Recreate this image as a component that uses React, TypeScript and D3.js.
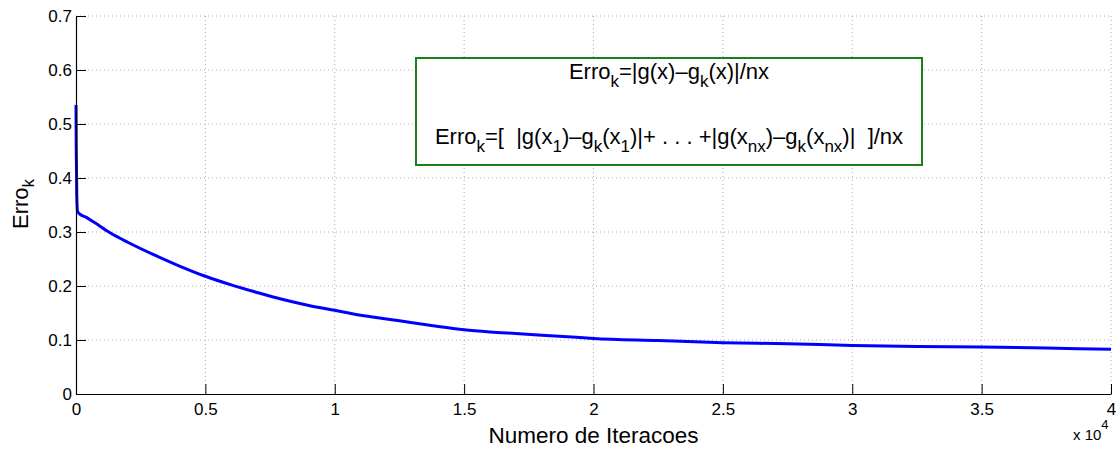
import * as d3 from 'd3';
import React, { useEffect, useRef } from 'react';

// Iteration count vs mean absolute error
const iterations = [
  0, 10, 30, 60, 150, 400, 700, 1300, 2000, 3000, 4000, 5000, 6000, 7000, 8000, 9000,
  10000, 11000, 12000, 13000, 14000, 15000, 16000, 17000, 18000, 19000, 20000, 22500,
  25000, 27500, 30000, 32500, 35000, 37500, 40000,
];
const errors = [
  0.535, 0.45, 0.37, 0.338, 0.333, 0.327, 0.318, 0.299, 0.281, 0.258, 0.237, 0.218, 0.202,
  0.188, 0.175, 0.164, 0.155, 0.146, 0.139, 0.132, 0.125, 0.119, 0.115, 0.112, 0.109,
  0.106, 0.103, 0.099, 0.095, 0.093, 0.09, 0.088, 0.087, 0.085, 0.083,
];
const xTicks = [0, 5000, 10000, 15000, 20000, 25000, 30000, 35000, 40000];
const xTickLabels = ['0', '0.5', '1', '1.5', '2', '2.5', '3', '3.5', '4'];
const yTicks = [0, 0.1, 0.2, 0.3, 0.4, 0.5, 0.6, 0.7];
const yTickLabels = ['0', '0.1', '0.2', '0.3', '0.4', '0.5', '0.6', '0.7'];

type Piece = { t: string; sub?: boolean };
const legendLine1: Piece[] = [
  { t: 'Erro' }, { t: 'k', sub: true }, { t: '=|g(x)\u2013g' }, { t: 'k', sub: true }, { t: '(x)|/nx' },
];
const legendLine2: Piece[] = [
  { t: 'Erro' }, { t: 'k', sub: true }, { t: '=[  |g(x' }, { t: '1', sub: true }, { t: ')\u2013g' },
  { t: 'k', sub: true }, { t: '(x' }, { t: '1', sub: true }, { t: ')|+ . . . +|g(x' },
  { t: 'nx', sub: true }, { t: ')\u2013g' }, { t: 'k', sub: true }, { t: '(x' },
  { t: 'nx', sub: true }, { t: ')|  ]/nx' },
];

const W = 1118;
const H = 450;

const App: React.FC = () => {
  const svgRef = useRef<SVGSVGElement>(null);

  useEffect(() => {
    if (!svgRef.current) return;
    const svg = d3.select(svgRef.current);
    svg.selectAll('*').remove();

    const margin = { top: 16, right: 7, bottom: 56, left: 76 };
    const innerW = W - margin.left - margin.right;
    const innerH = H - margin.top - margin.bottom;
    const font = 'Liberation Sans, Arial, Helvetica, sans-serif';

    const x = d3.scaleLinear().domain([0, 40000]).range([0, innerW]);
    const y = d3.scaleLinear().domain([0, 0.7]).range([innerH, 0]);

    const g = svg.append('g').attr('transform', `translate(${margin.left},${margin.top})`);

    // dotted grid
    g.selectAll('line.gx')
      .data(xTicks.slice(1))
      .join('line')
      .attr('class', 'gx')
      .attr('x1', d => x(d)).attr('x2', d => x(d))
      .attr('y1', 0).attr('y2', innerH)
      .attr('stroke', '#aaaaaa')
      .attr('stroke-dasharray', '1,3');
    g.selectAll('line.gy')
      .data(yTicks.slice(1))
      .join('line')
      .attr('class', 'gy')
      .attr('x1', 0).attr('x2', innerW)
      .attr('y1', d => y(d)).attr('y2', d => y(d))
      .attr('stroke', '#aaaaaa')
      .attr('stroke-dasharray', '1,3');

    // curve
    const pts = iterations.map((it, i) => [it, errors[i]] as [number, number]);
    const line = d3.line<[number, number]>()
      .x(d => x(d[0]))
      .y(d => y(d[1]))
      .curve(d3.curveMonotoneX);
    g.append('path')
      .datum(pts)
      .attr('d', line)
      .attr('fill', 'none')
      .attr('stroke', '#0000ff')
      .attr('stroke-width', 3);

    // axes, ticks pointing inward
    const xAxis = g.append('g')
      .attr('transform', `translate(0,${innerH})`)
      .call(d3.axisBottom(x).tickValues(xTicks).tickSize(-10).tickSizeOuter(0).tickPadding(9)
        .tickFormat((_, i) => xTickLabels[i]));
    const yAxis = g.append('g')
      .call(d3.axisLeft(y).tickValues(yTicks).tickSize(-10).tickSizeOuter(0).tickPadding(4)
        .tickFormat((_, i) => yTickLabels[i]));
    [xAxis, yAxis].forEach(ax => {
      ax.select('.domain').attr('stroke', '#000').attr('stroke-width', 1.2);
      ax.selectAll('.tick line').attr('stroke', '#000');
      ax.selectAll('.tick text')
        .attr('fill', '#000')
        .attr('font-family', font)
        .attr('font-size', 17);
    });
    yAxis.selectAll('.tick text').attr('x', -4);

    // axis labels
    svg.append('text')
      .attr('x', margin.left + innerW / 2)
      .attr('y', 443)
      .attr('text-anchor', 'middle')
      .attr('font-family', font)
      .attr('font-size', 22.5)
      .text('Numero de Iteracoes');

    const yl = svg.append('text')
      .attr('transform', `translate(28,229) rotate(-90)`)
      .attr('text-anchor', 'start')
      .attr('font-family', font)
      .attr('font-size', 22);
    yl.append('tspan').text('Erro');
    yl.append('tspan').attr('dy', 6).attr('font-size', 17).text('k');

    // exponent label
    const ex = svg.append('text')
      .attr('x', 1073)
      .attr('y', 440)
      .attr('font-family', font)
      .attr('font-size', 15);
    ex.append('tspan').text('x 10');
    ex.append('tspan').attr('dy', -11).attr('font-size', 13).text('4');

    // legend box
    const box = { x: 416, y: 58, w: 506, h: 107 };
    svg.append('rect')
      .attr('x', box.x).attr('y', box.y)
      .attr('width', box.w).attr('height', box.h)
      .attr('fill', '#fff')
      .attr('stroke', '#1a801a')
      .attr('stroke-width', 2);

    const writeLine = (pieces: Piece[], baseline: number) => {
      const t = svg.append('text')
        .attr('x', box.x + box.w / 2)
        .attr('y', baseline)
        .attr('text-anchor', 'middle')
        .attr('font-family', font)
        .attr('font-size', 22)
        .style('white-space', 'pre');
      let low = false;
      pieces.forEach(p => {
        const ts = t.append('tspan').text(p.t);
        if (p.sub && !low) { ts.attr('dy', 8).attr('font-size', 17); low = true; }
        else if (p.sub) { ts.attr('font-size', 17); }
        else if (low) { ts.attr('dy', -8); low = false; }
      });
    };
    writeLine(legendLine1, 79);
    writeLine(legendLine2, 144);
  }, []);

  return (
    <svg
      ref={svgRef}
      width={W}
      height={H}
      style={{ position: 'absolute', left: 0, top: 0, background: '#fff' }}
    />
  );
};

export default App;
